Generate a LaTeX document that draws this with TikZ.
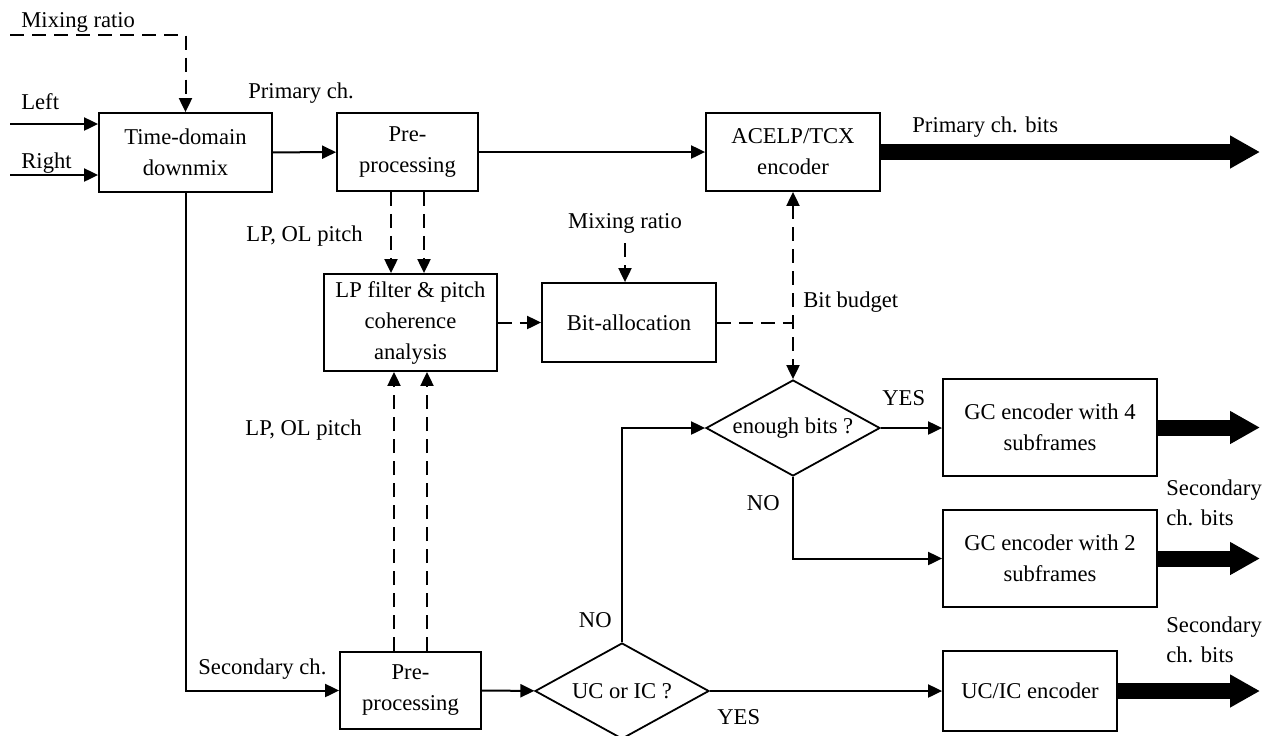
\documentclass[tikz,border=0pt]{standalone}
\usepackage{fontspec}
\setmainfont{Liberation Serif}
\usetikzlibrary{arrows.meta,positioning,shapes.geometric}

\begin{document}
\begin{tikzpicture}[x=0.5pt, y=-0.5pt, >={Triangle[length=7pt,width=6.5pt]},
  every node/.style={font=\fontsize{11.3}{15.5}\selectfont, align=center, inner sep=0pt},
  block/.style={draw, line width=0.9pt, minimum height=39pt},
  decision/.style={draw, diamond, aspect=1.8, line width=0.9pt, minimum width=87pt, minimum height=48pt},
  flow/.style={line width=1pt, ->},
  ctrl/.style={line width=1pt, dash pattern=on 7pt off 4pt},
  bits/.style={line width=8pt, -{Triangle[length=15pt,width=15.5pt]}},
  lbl/.style={font=\fontsize{11.3}{15}\selectfont, align=left}]
  \useasboundingbox (0,0) rectangle (1275,735);

  % blocks
  \node[block, minimum width=86.5pt, minimum height=39.5pt] (downmix) at (185.5,152.5) {Time-domain\\downmix};
  \node[block, minimum width=70.5pt] (prepri) at (407.5,152) {Pre-\\processing};
  \node[block, minimum width=87pt] (acelp) at (793,152) {ACELP/TCX\\encoder};
  \node[block, minimum width=86.5pt, minimum height=48.5pt] (lpcoh) at (410.5,322.5) {LP filter \& pitch\\coherence\\analysis};
  \node[block, minimum width=87pt, minimum height=39.5pt] (bitalloc) at (629,322.5) {Bit-allocation};
  \node[decision] (enough) at (793,428) {enough bits ?};
  \node[block, minimum width=107pt, minimum height=48.5pt] (gcfour) at (1050,427.5) {GC encoder with 4\\subframes};
  \node[block, minimum width=107pt, minimum height=48.5pt] (gctwo) at (1050,558.5) {GC encoder with 2\\subframes};
  \node[block, minimum width=70.5pt, minimum height=38.5pt] (presec) at (410.5,690.5) {Pre-\\processing};
  \node[decision] (ucic) at (622,691) {UC or IC ?};
  \node[block, minimum width=87pt, minimum height=40pt] (ucenc) at (1030,691) {UC/IC encoder};

  % free ends
  \coordinate (inleft) at (10,124);
  \coordinate (inright) at (10,175);
  \coordinate (mixin) at (10,35);
  \coordinate (mixbit) at (625,243);
  \coordinate (outpri) at (1260,152);
  \coordinate (outfour) at (1260,427.5);
  \coordinate (outtwo) at (1260,558.5);
  \coordinate (outuc) at (1260,691);

  % labels
  \node[anchor=west] (mixlbl) at (21,22) {Mixing ratio};
  \node[anchor=west] (leftlbl) at (21,102) {Left};
  \node[anchor=west] (rightlbl) at (21,163) {Right};
  \node[anchor=west] (prilbl) at (248,93) {Primary ch.};
  \node[anchor=east] (pitchup) at (363,236) {LP, OL pitch};
  \node[anchor=east] (pitchdown) at (362,430) {LP, OL pitch};
  \node (mixlbl2) at (625,223) {Mixing ratio};
  \node[anchor=west] (budget) at (803,302) {Bit budget};
  \node[anchor=west] (pribits) at (912,127) {Primary ch. bits};
  \node[anchor=west] (yesgc) at (882,398) {YES};
  \node[anchor=east] (nogc) at (780,503) {NO};
  \node[anchor=east] (nouc) at (612,620) {NO};
  \node[anchor=west] (yesuc) at (717,717) {YES};
  \node[anchor=west] (seclbl) at (198,669) {Secondary ch.};
  \node[lbl, anchor=west] (secbitsa) at (1166,503) {Secondary\\ch. bits};
  \node[lbl, anchor=west] (secbitsb) at (1166,640) {Secondary\\ch. bits};

  % connectors
  \draw[flow] (inleft) -- (inleft -| downmix.west);
  \draw[flow] (inright) -- (inright -| downmix.west);
  \draw[ctrl, ->] (mixin) -| (downmix.north);
  \draw[flow] (downmix) -- (prepri);
  \draw[flow] (prepri) -- (acelp);
  \draw[flow] (downmix.south) |- (presec.west);
  \draw[ctrl, ->] ([xshift=-8.25pt]prepri.south) -- ([xshift=-8.25pt]prepri.south |- lpcoh.north);
  \draw[ctrl, ->] ([xshift=8.25pt]prepri.south) -- ([xshift=8.25pt]prepri.south |- lpcoh.north);
  \draw[ctrl, ->] ([xshift=-8.25pt]presec.north) -- ([xshift=-8.25pt]presec.north |- lpcoh.south);
  \draw[ctrl, ->] ([xshift=8.25pt]presec.north) -- ([xshift=8.25pt]presec.north |- lpcoh.south);
  \draw[ctrl, ->] (lpcoh) -- (bitalloc);
  \draw[ctrl, ->] (mixbit) -- (mixbit |- bitalloc.north);
  \draw[ctrl] (bitalloc.east) -- (bitalloc.east -| acelp.south);
  \draw[ctrl, <->] (acelp.south) -- (enough.north);
  \draw[flow] (presec) -- (ucic);
  \draw[flow] (ucic.north) |- (enough.west);
  \draw[flow] (ucic.east) -- (ucenc.west);
  \draw[flow] (enough.east) -- (enough.east -| gcfour.west);
  \draw[flow] (enough.south) |- (gctwo.west);
  \draw[bits] (acelp.east) -- (outpri);
  \draw[bits] (gcfour.east) -- (outfour);
  \draw[bits] (gctwo.east) -- (outtwo);
  \draw[bits] (ucenc.east) -- (outuc);
\end{tikzpicture}
\end{document}
